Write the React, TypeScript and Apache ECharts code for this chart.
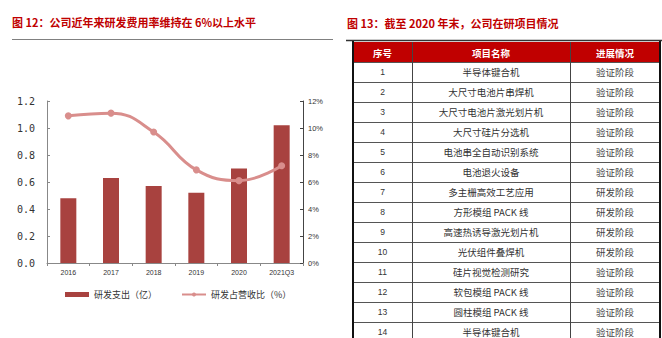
import React, { useEffect, useRef } from "react";
import * as echarts from "echarts";

const categories = ["2016", "2017", "2018", "2019", "2020", "2021Q3"];
const rdSpend = [0.48, 0.63, 0.57, 0.52, 0.7, 1.02];
const rdRatio = [10.9, 11.1, 9.7, 6.9, 6.1, 7.2];
const leftTicks = [0, 0.2, 0.4, 0.6, 0.8, 1.0, 1.2];

const leftTitle = "图 12：公司近年来研发费用率维持在 6%以上水平";
const rightTitle = "图 13：截至 2020 年末，公司在研项目情况";
const tableHeaders = ["序号", "项目名称", "进展情况"];
const projectNames = [
  "半导体键合机",
  "大尺寸电池片串焊机",
  "大尺寸电池片激光划片机",
  "大尺寸硅片分选机",
  "电池串全自动识别系统",
  "电池退火设备",
  "多主栅高效工艺应用",
  "方形模组 PACK 线",
  "高速热诱导激光划片机",
  "光伏组件叠焊机",
  "硅片视觉检测研究",
  "软包模组 PACK 线",
  "圆柱模组 PACK 线",
  "半导体键合机",
];
const projectStatus = [
  "验证阶段",
  "验证阶段",
  "验证阶段",
  "验证阶段",
  "验证阶段",
  "验证阶段",
  "研发阶段",
  "研发阶段",
  "研发阶段",
  "研发阶段",
  "验证阶段",
  "验证阶段",
  "验证阶段",
  "验证阶段",
];

const RED = "#c00000";
const BAR = "#a8423f";
const LINE = "#d98e8c";
const CJK = "'Noto Sans CJK SC', sans-serif";

function buildTable(): any[] {
  const els: any[] = [];
  const colX = [353, 412, 570, 660];
  const top = 42;
  const hH = 20;
  const rH = 20;
  const bottom = 338;
  els.push({
    type: "rect",
    shape: { x: colX[0], y: top, width: colX[3] - colX[0], height: hH },
    style: { fill: RED },
  });
  for (let i = 0; i <= projectNames.length; i++) {
    const y = top + hH + rH * i + 0.5;
    if (y > bottom) break;
    els.push({
      type: "line",
      shape: { x1: colX[0], y1: y, x2: colX[3], y2: y },
      style: { stroke: "#555", lineWidth: 1 },
    });
  }
  [colX[1], colX[2]].forEach((x) => {
    els.push({
      type: "line",
      shape: { x1: x + 0.5, y1: top, x2: x + 0.5, y2: bottom },
      style: { stroke: "#444", lineWidth: 1 },
    });
  });
  [colX[0], colX[3]].forEach((x) => {
    els.push({
      type: "line",
      shape: { x1: x, y1: 40, x2: x, y2: bottom },
      style: { stroke: "#111", lineWidth: 2 },
    });
  });
  els.push({
    type: "line",
    shape: { x1: 346, y1: 40.5, x2: 662, y2: 40.5 },
    style: { stroke: "#333", lineWidth: 1.5 },
  });
  const centers = [
    (colX[0] + colX[1]) / 2,
    (colX[1] + colX[2]) / 2,
    (colX[2] + colX[3]) / 2,
  ];
  tableHeaders.forEach((h, i) => {
    els.push({
      type: "text",
      x: centers[i],
      y: top + hH / 2 + 0.5,
      style: {
        text: h,
        fill: "#fff",
        fontSize: 9.5,
        fontWeight: "bold",
        fontFamily: CJK,
        align: "center",
        verticalAlign: "middle",
      },
    });
  });
  projectNames.forEach((name, i) => {
    const cy = top + hH + rH * i + rH / 2;
    els.push({
      type: "text",
      x: centers[0],
      y: cy,
      style: {
        text: String(i + 1),
        fill: "#333",
        fontSize: 8.5,
        fontFamily: "'Liberation Sans', Arial, sans-serif",
        align: "center",
        verticalAlign: "middle",
      },
    });
    els.push({
      type: "text",
      x: centers[1],
      y: cy,
      style: {
        text: name,
        fill: "#333",
        fontSize: 9.5,
        fontFamily: CJK,
        align: "center",
        verticalAlign: "middle",
      },
    });
    els.push({
      type: "text",
      x: centers[2],
      y: cy,
      style: {
        text: projectStatus[i],
        fill: "#444",
        fontSize: 9.5,
        fontFamily: CJK,
        align: "center",
        verticalAlign: "middle",
      },
    });
  });
  return els;
}

export default function App() {
  const ref = useRef<HTMLDivElement>(null);
  useEffect(() => {
    if (!ref.current) return;
    const chart = echarts.init(ref.current, undefined, { renderer: "svg" });
    const graphics: any[] = [
      {
        type: "text",
        x: 12,
        y: 22,
        style: {
          text: leftTitle,
          fill: RED,
          fontSize: 11,
          fontWeight: "bold",
          fontFamily: CJK,
          align: "left",
          verticalAlign: "middle",
        },
      },
      {
        type: "line",
        shape: { x1: 12, y1: 39.5, x2: 333, y2: 39.5 },
        style: { stroke: "#808080", lineWidth: 1 },
      },
      {
        type: "text",
        x: 347,
        y: 23,
        style: {
          text: rightTitle,
          fill: RED,
          fontSize: 11,
          fontWeight: "bold",
          fontFamily: CJK,
          align: "left",
          verticalAlign: "middle",
        },
      },
      ...buildTable(),
    ];
    chart.setOption({
      animation: false,
      backgroundColor: "#fff",
      graphic: graphics,
      grid: { left: 47, top: 101, width: 256, height: 162, containLabel: false },
      legend: {
        left: 60,
        top: 285,
        itemGap: 24,
        itemWidth: 24,
        itemHeight: 5,
        textStyle: { fontSize: 9, color: "#333", fontFamily: CJK },
        data: [
          { name: "研发支出（亿）", icon: "rect" },
          { name: "研发占营收比（%）" },
        ],
      },
      xAxis: {
        type: "category",
        data: categories,
        axisLine: { lineStyle: { color: "#888", width: 1 } },
        axisTick: { show: true, length: 3, lineStyle: { color: "#888" } },
        axisLabel: {
          fontSize: 7,
          color: "#333",
          margin: 6,
          fontFamily: "'Liberation Sans', Arial, sans-serif",
        },
      },
      yAxis: [
        {
          type: "value",
          min: leftTicks[0],
          max: leftTicks[leftTicks.length - 1],
          interval: 0.2,
          splitLine: { show: false },
          axisLine: { show: true, lineStyle: { color: "#888", width: 1 } },
          axisTick: { show: true, inside: true, length: 3, lineStyle: { color: "#888" } },
          axisLabel: {
            fontSize: 10,
            color: "#333",
            margin: 12,
            fontFamily: "'DejaVu Sans Mono', monospace",
            formatter: (v: number) => v.toFixed(1),
          },
        },
        {
          type: "value",
          min: 0,
          max: 12,
          interval: 2,
          position: "right",
          splitLine: { show: false },
          axisLine: { show: true, lineStyle: { color: "#444", width: 1 } },
          axisTick: { show: true, inside: true, length: 3, lineStyle: { color: "#444" } },
          axisLabel: {
            fontSize: 7.5,
            color: "#333",
            margin: 5,
            fontFamily: "'Liberation Sans', Arial, sans-serif",
            formatter: "{value}%",
          },
        },
      ],
      series: [
        {
          name: "研发支出（亿）",
          type: "bar",
          data: rdSpend,
          barWidth: 16,
          itemStyle: { color: BAR },
          yAxisIndex: 0,
        },
        {
          name: "研发占营收比（%）",
          type: "line",
          data: rdRatio,
          yAxisIndex: 1,
          smooth: 0.45,
          symbol: "circle",
          symbolSize: 7,
          lineStyle: { color: LINE, width: 3 },
          itemStyle: { color: LINE },
        },
      ],
    });
    return () => chart.dispose();
  }, []);
  return (
    <div
      ref={ref}
      style={{ position: "absolute", left: 0, top: 0, width: 662, height: 338 }}
    />
  );
}
